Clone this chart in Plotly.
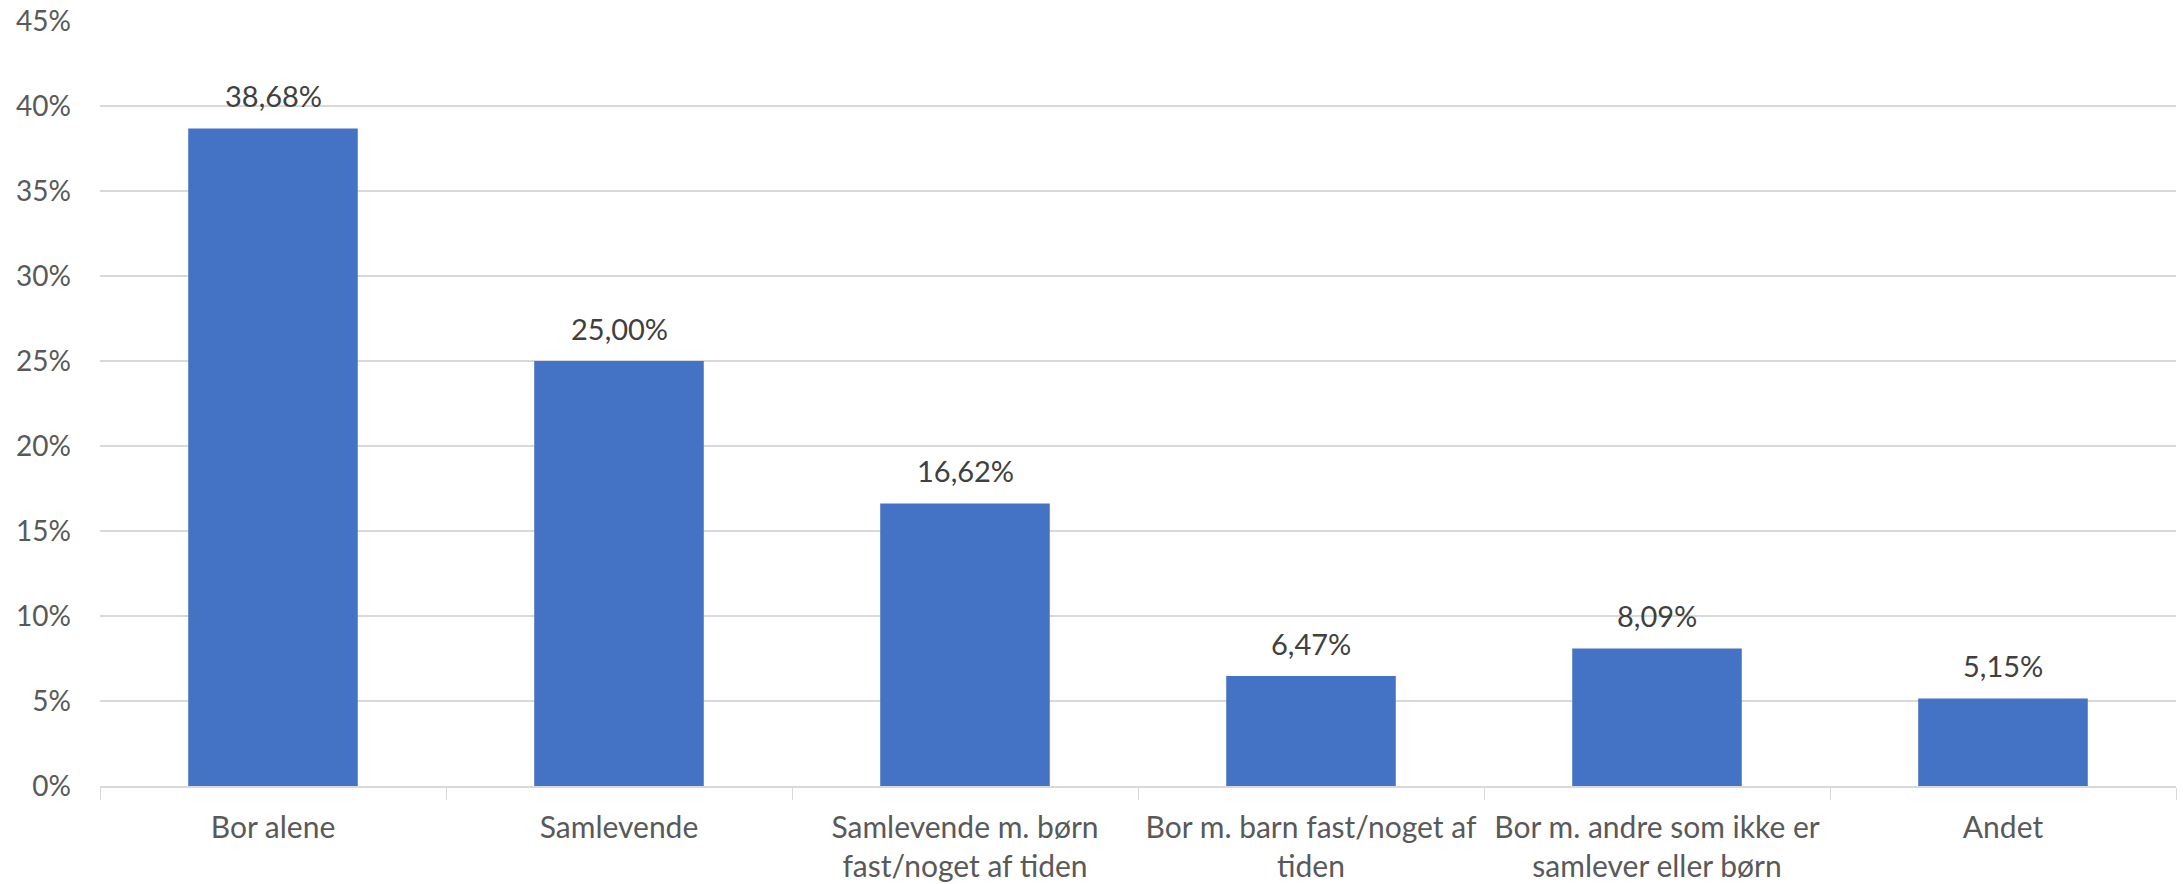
import plotly.graph_objects as go

categories = [
    "Bor alene",
    "Samlevende",
    "Samlevende m. børn<br>fast/noget af tiden",
    "Bor m. barn fast/noget af<br>tiden",
    "Bor m. andre som ikke er<br>samlever eller børn",
    "Andet",
]
values = [38.68, 25.00, 16.62, 6.47, 8.09, 5.15]
labels = ["38,68%", "25,00%", "16,62%", "6,47%", "8,09%", "5,15%"]
y_ticks = [0, 5, 10, 15, 20, 25, 30, 35, 40, 45]
y_ticktext = [f"{v}%" for v in y_ticks]

FONT = "Lato"

fig = go.Figure()
fig.add_trace(go.Bar(
    x=categories, y=values,
    marker=dict(color="#4472C4", line=dict(width=0)),
    width=0.49,
    hoverinfo="skip",
))
for c, v, t in zip(categories, values, labels):
    fig.add_annotation(x=c, y=v, text=t, showarrow=False, yanchor="bottom",
                       yshift=13, font=dict(family=FONT, size=29, color="#404040"))

fig.update_layout(
    width=2183, height=884,
    margin=dict(l=100, r=7, t=21, b=98),
    paper_bgcolor="white", plot_bgcolor="white",
    showlegend=False,
    font=dict(family=FONT, size=28, color="#595959"),
    xaxis=dict(
        tickson="boundaries", ticks="outside", ticklen=12, tickcolor="#D9D9D9",
        showline=True, linecolor="#D9D9D9", linewidth=2,
        showgrid=False, ticklabelstandoff=14, automargin=False,
        tickfont=dict(family=FONT, size=30, color="#595959"),
    ),
    yaxis=dict(
        range=[0, 45], tickvals=y_ticks, ticktext=y_ticktext,
        showgrid=True, gridcolor="#D9D9D9", gridwidth=2,
        zeroline=False, showline=False, ticks="",
        ticklabelstandoff=28, automargin=False,
        tickfont=dict(family=FONT, size=28, color="#595959"),
    ),
)
fig.write_html("out.html")
